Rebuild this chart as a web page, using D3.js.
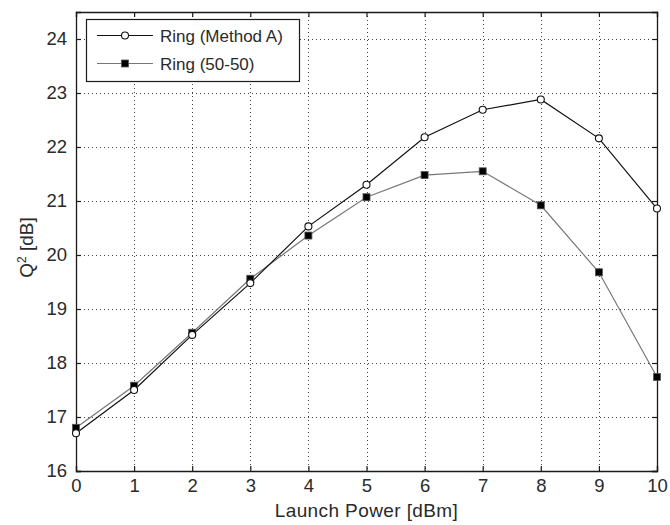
<!DOCTYPE html>
<html>
<head>
<meta charset="utf-8">
<script src="https://cdn.jsdelivr.net/npm/d3@7"></script>
<style>
  html, body { margin: 0; padding: 0; background: #fff; }
  svg { display: block; font-family: "Liberation Sans", Arial, sans-serif; }
</style>
</head>
<body>
<svg id="chart" width="670" height="525"></svg>
<script>
const launchPower = [0, 1, 2, 3, 4, 5, 6, 7, 8, 9, 10];
const methodA = [16.70, 17.50, 18.52, 19.48, 20.53, 21.30, 22.18, 22.69, 22.88, 22.16, 20.86];
const fiftyFifty = [16.80, 17.58, 18.56, 19.56, 20.36, 21.07, 21.48, 21.55, 20.92, 19.68, 17.74];
const xTicks = [0, 1, 2, 3, 4, 5, 6, 7, 8, 9, 10];
const yTicks = [16, 17, 18, 19, 20, 21, 22, 23, 24];
const seriesNames = ["Ring (Method A)", "Ring (50-50)"];

const svg = d3.select("#chart");
const m = { left: 76, right: 13, top: 12, bottom: 54 };
const W = 670, H = 525;
const x = d3.scaleLinear().domain([0, 10]).range([m.left, W - m.right]);
const y = d3.scaleLinear().domain([16, 24.5]).range([H - m.bottom, m.top]);
const ink = "#1a1a1a";

// grid
const grid = svg.append("g").attr("stroke", "#444").attr("stroke-width", 1).attr("stroke-dasharray", "1,3");
grid.selectAll(".gx").data(xTicks.slice(1, -1)).enter().append("line")
  .attr("x1", d => Math.round(x(d)) + 0.5).attr("x2", d => Math.round(x(d)) + 0.5)
  .attr("y1", y(24.5)).attr("y2", y(16));
grid.selectAll(".gy").data(yTicks.slice(1)).enter().append("line")
  .attr("y1", d => Math.round(y(d)) + 0.5).attr("y2", d => Math.round(y(d)) + 0.5)
  .attr("x1", x(0)).attr("x2", x(10));

// axes (inner ticks)
const fs = "18.5px";
const xAxisB = svg.append("g").attr("transform", `translate(0,${y(16)})`)
  .call(d3.axisBottom(x).tickValues(xTicks).tickSize(-5).tickPadding(8).tickFormat(d3.format("d")));
const xAxisT = svg.append("g").attr("transform", `translate(0,${y(24.5)})`)
  .call(d3.axisTop(x).tickValues(xTicks).tickSize(-5).tickFormat(""));
const yAxisL = svg.append("g").attr("transform", `translate(${x(0)},0)`)
  .call(d3.axisLeft(y).tickValues(yTicks).tickSize(-5).tickPadding(9).tickFormat(d3.format("d")));
const yAxisR = svg.append("g").attr("transform", `translate(${x(10)},0)`)
  .call(d3.axisRight(y).tickValues(yTicks).tickSize(-5).tickFormat(""));
[xAxisB, xAxisT, yAxisL, yAxisR].forEach(g => {
  g.select(".domain").attr("stroke", ink).attr("stroke-width", 1.3);
  g.selectAll(".tick line").attr("stroke", ink).attr("stroke-width", 1.2);
  g.selectAll("text").attr("fill", "#2a2a2a").style("font-size", fs)
    .style("font-family", "'Liberation Sans', Arial, sans-serif");
});

// lines
const line = d3.line().x((d, i) => x(launchPower[i])).y(d => y(d));
svg.append("path").datum(fiftyFifty).attr("d", line)
  .attr("fill", "none").attr("stroke", "#777").attr("stroke-width", 1.2);
svg.append("path").datum(methodA).attr("d", line)
  .attr("fill", "none").attr("stroke", "#111").attr("stroke-width", 1.2);

svg.selectAll(".sq").data(fiftyFifty).enter().append("rect")
  .attr("x", (d, i) => x(launchPower[i]) - 3.5).attr("y", d => y(d) - 3.5)
  .attr("width", 7).attr("height", 7).attr("fill", "#000").attr("stroke", "#555").attr("stroke-width", 0.8);
svg.selectAll(".ci").data(methodA).enter().append("circle")
  .attr("cx", (d, i) => x(launchPower[i])).attr("cy", d => y(d)).attr("r", 3.5)
  .attr("fill", "#fff").attr("stroke", "#111").attr("stroke-width", 1.1);

// axis labels
svg.append("text").attr("x", (x(0) + x(10)) / 2).attr("y", 517).attr("text-anchor", "middle")
  .attr("fill", "#2a2a2a").style("font-size", "19px").style("letter-spacing", "0.4px")
  .text("Launch Power [dBm]");
const yl = svg.append("text").attr("transform", `translate(33,${(y(16) + y(24.5)) / 2 + 6}) rotate(-90)`)
  .attr("text-anchor", "middle").attr("fill", "#2a2a2a").style("font-size", "19px");
yl.append("tspan").text("Q");
yl.append("tspan").attr("dy", -7).style("font-size", "12px").text("2");
yl.append("tspan").attr("dy", 7).text(" [dB]");

// legend
const lg = svg.append("g");
lg.append("rect").attr("x", 86.5).attr("y", 19.5).attr("width", 213).attr("height", 62)
  .attr("fill", "#fff").attr("stroke", ink).attr("stroke-width", 1.2);
const ly = [35.5, 63.5];
const lcol = ["#111", "#777"];
seriesNames.forEach((name, i) => {
  lg.append("line").attr("x1", 97).attr("x2", 153).attr("y1", ly[i]).attr("y2", ly[i])
    .attr("stroke", lcol[i]).attr("stroke-width", 1.2);
  if (i === 0) {
    lg.append("circle").attr("cx", 125).attr("cy", ly[i]).attr("r", 3.5)
      .attr("fill", "#fff").attr("stroke", "#111").attr("stroke-width", 1.1);
  } else {
    lg.append("rect").attr("x", 121.5).attr("y", ly[i] - 3.5).attr("width", 7).attr("height", 7)
      .attr("fill", "#000").attr("stroke", "#555").attr("stroke-width", 0.8);
  }
  lg.append("text").attr("x", 160).attr("y", ly[i] + 6).attr("fill", "#2a2a2a")
    .style("font-size", "17px").text(name);
});
</script>
</body>
</html>
